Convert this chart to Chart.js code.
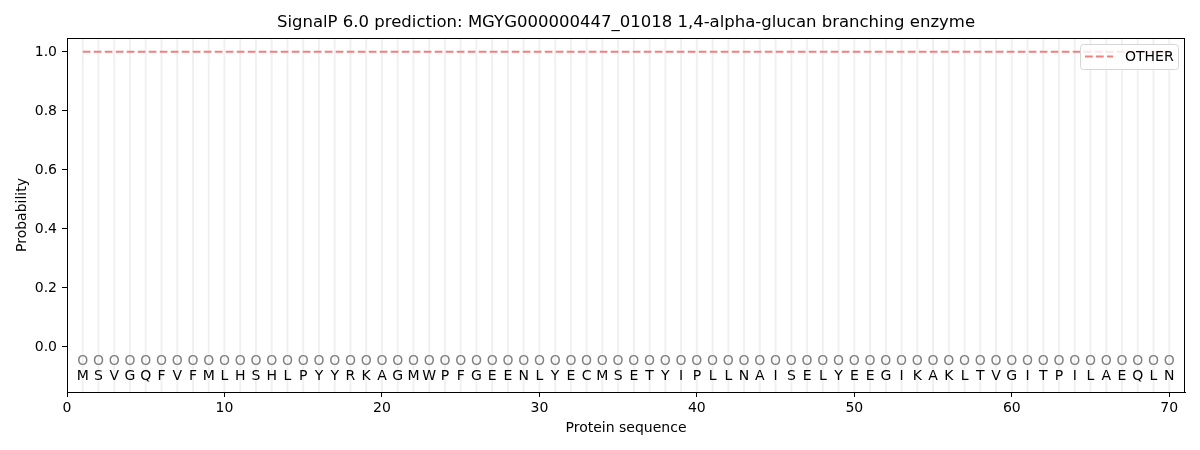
<!DOCTYPE html>
<html>
<head>
<meta charset="utf-8">
<script src="https://cdn.jsdelivr.net/npm/chart.js@4/dist/chart.umd.min.js"></script>
<style>
  body { margin: 0; background: #fff; }
  #box { width: 1200px; height: 450px; }
</style>
</head>
<body>
<div id="box"><canvas id="signalChart"></canvas></div>
<script>
// chart data
const chartTitle = "SignalP 6.0 prediction: MGYG000000447_01018 1,4-alpha-glucan branching enzyme";
const positions = [1, 2, 3, 4, 5, 6, 7, 8, 9, 10, 11, 12, 13, 14, 15, 16, 17, 18, 19, 20,
  21, 22, 23, 24, 25, 26, 27, 28, 29, 30, 31, 32, 33, 34, 35, 36, 37, 38, 39, 40,
  41, 42, 43, 44, 45, 46, 47, 48, 49, 50, 51, 52, 53, 54, 55, 56, 57, 58, 59, 60,
  61, 62, 63, 64, 65, 66, 67, 68, 69, 70];
const residues = ["M", "S", "V", "G", "Q", "F", "V", "F", "M", "L", "H", "S", "H", "L", "P", "Y", "Y", "R", "K", "A",
  "G", "M", "W", "P", "F", "G", "E", "E", "N", "L", "Y", "E", "C", "M", "S", "E", "T", "Y", "I", "P",
  "L", "L", "N", "A", "I", "S", "E", "L", "Y", "E", "E", "G", "I", "K", "A", "K", "L", "T", "V", "G",
  "I", "T", "P", "I", "L", "A", "E", "Q", "L", "N"];
const predLabels = ["O", "O", "O", "O", "O", "O", "O", "O", "O", "O", "O", "O", "O", "O", "O", "O", "O", "O", "O", "O",
  "O", "O", "O", "O", "O", "O", "O", "O", "O", "O", "O", "O", "O", "O", "O", "O", "O", "O", "O", "O",
  "O", "O", "O", "O", "O", "O", "O", "O", "O", "O", "O", "O", "O", "O", "O", "O", "O", "O", "O", "O",
  "O", "O", "O", "O", "O", "O", "O", "O", "O", "O"];
const otherProb = [1, 1, 1, 1, 1, 1, 1, 1, 1, 1, 1, 1, 1, 1, 1, 1, 1, 1, 1, 1,
  1, 1, 1, 1, 1, 1, 1, 1, 1, 1, 1, 1, 1, 1, 1, 1, 1, 1, 1, 1,
  1, 1, 1, 1, 1, 1, 1, 1, 1, 1, 1, 1, 1, 1, 1, 1, 1, 1, 1, 1,
  1, 1, 1, 1, 1, 1, 1, 1, 1, 1];
const xTicks = [0, 10, 20, 30, 40, 50, 60, 70];
const yTicks = [0, 0.2, 0.4, 0.6, 0.8, 1.0];
const labelRowY = -0.05;
const residueRowY = -0.1;

const FONT = "'DejaVu Sans', sans-serif";
const lineColor = "#f08080";

// grid lines, sequence letters, frame, title and legend
const extras = {
  id: "extras",
  beforeDatasetsDraw(chart) {
    const ctx = chart.ctx;
    const area = chart.chartArea;
    const x = chart.scales.x;
    ctx.save();
    ctx.strokeStyle = "rgba(0,0,0,0.06)";
    ctx.lineWidth = 2;
    for (let i = 0; i < positions.length; i++) {
      const px = x.getPixelForValue(positions[i]);
      ctx.beginPath();
      ctx.moveTo(px, area.top);
      ctx.lineTo(px, area.bottom);
      ctx.stroke();
    }
    ctx.restore();
  },
  afterDraw(chart) {
    const ctx = chart.ctx;
    const area = chart.chartArea;
    const x = chart.scales.x;
    const y = chart.scales.y;
    ctx.save();

    ctx.font = "14px " + FONT;
    ctx.textAlign = "center";
    ctx.textBaseline = "middle";
    for (let i = 0; i < positions.length; i++) {
      const px = x.getPixelForValue(positions[i]);
      ctx.fillStyle = "#808080";
      ctx.fillText(predLabels[i], px, y.getPixelForValue(labelRowY));
      ctx.fillStyle = "#000";
      ctx.fillText(residues[i], px, y.getPixelForValue(residueRowY));
    }

    // frame
    ctx.strokeStyle = "#000";
    ctx.lineWidth = 1;
    ctx.strokeRect(area.left + 0.5, area.top + 0.5, area.right - area.left - 1, area.bottom - area.top);

    // title
    ctx.fillStyle = "#000";
    ctx.font = "16.5px " + FONT;
    ctx.fillText(chartTitle, (area.left + area.right) / 2, 23);

    // legend
    const lx = area.right - 105, ly = area.top + 6, lw = 98, lh = 25;
    ctx.fillStyle = "rgba(255,255,255,0.8)";
    ctx.strokeStyle = "#d6d6d6";
    ctx.beginPath();
    ctx.roundRect(lx + 0.5, ly + 0.5, lw, lh, 3);
    ctx.fill();
    ctx.stroke();
    ctx.strokeStyle = lineColor;
    ctx.lineWidth = 2;
    ctx.setLineDash([7.7, 3.3]);
    ctx.beginPath();
    ctx.moveTo(lx + 5, ly + 12.5);
    ctx.lineTo(lx + 33, ly + 12.5);
    ctx.stroke();
    ctx.setLineDash([]);
    ctx.fillStyle = "#000";
    ctx.font = "14px " + FONT;
    ctx.textAlign = "left";
    ctx.fillText(chart.data.datasets[0].label, lx + 45, ly + 13);
    ctx.restore();
  }
};

const ctx = document.getElementById("signalChart").getContext("2d");
new Chart(ctx, {
  type: "line",
  data: {
    datasets: [{
      label: "OTHER",
      data: positions.map((p, i) => ({ x: p, y: otherProb[i] })),
      borderColor: lineColor,
      borderWidth: 2,
      borderDash: [7.7, 3.3],
      pointRadius: 0,
      fill: false,
      tension: 0
    }]
  },
  options: {
    responsive: true,
    maintainAspectRatio: false,
    animation: false,
    layout: { padding: { left: 0, right: 15, top: 38, bottom: 0 } },
    plugins: {
      legend: { display: false },
      tooltip: { enabled: false },
      title: { display: false }
    },
    scales: {
      x: {
        type: "linear",
        min: 0,
        max: 71,
        afterBuildTicks: s => { s.ticks = xTicks.map(v => ({ value: v })); },
        afterFit: s => { s.height = 58; },
        grid: { display: true, drawOnChartArea: false, tickColor: "#000", tickLength: 5 },
        border: { display: true, color: "#000" },
        ticks: { color: "#000", font: { size: 14, family: FONT }, padding: 3, maxRotation: 0 },
        title: { display: true, text: "Protein sequence", color: "#000", font: { size: 14, family: FONT }, padding: { top: 0, bottom: 13 } }
      },
      y: {
        type: "linear",
        min: -0.153,
        max: 1.047,
        afterBuildTicks: s => { s.ticks = yTicks.map(v => ({ value: v })); },
        afterFit: s => { s.width = 67; },
        grid: { display: true, drawOnChartArea: false, tickColor: "#000", tickLength: 5 },
        border: { display: true, color: "#000" },
        ticks: { color: "#000", font: { size: 14, family: FONT }, padding: 5, callback: v => v.toFixed(1) },
        title: { display: true, text: "Probability", color: "#000", font: { size: 14, family: FONT }, padding: { top: 14, bottom: 0 } }
      }
    }
  },
  plugins: [extras]
});
</script>
</body>
</html>
